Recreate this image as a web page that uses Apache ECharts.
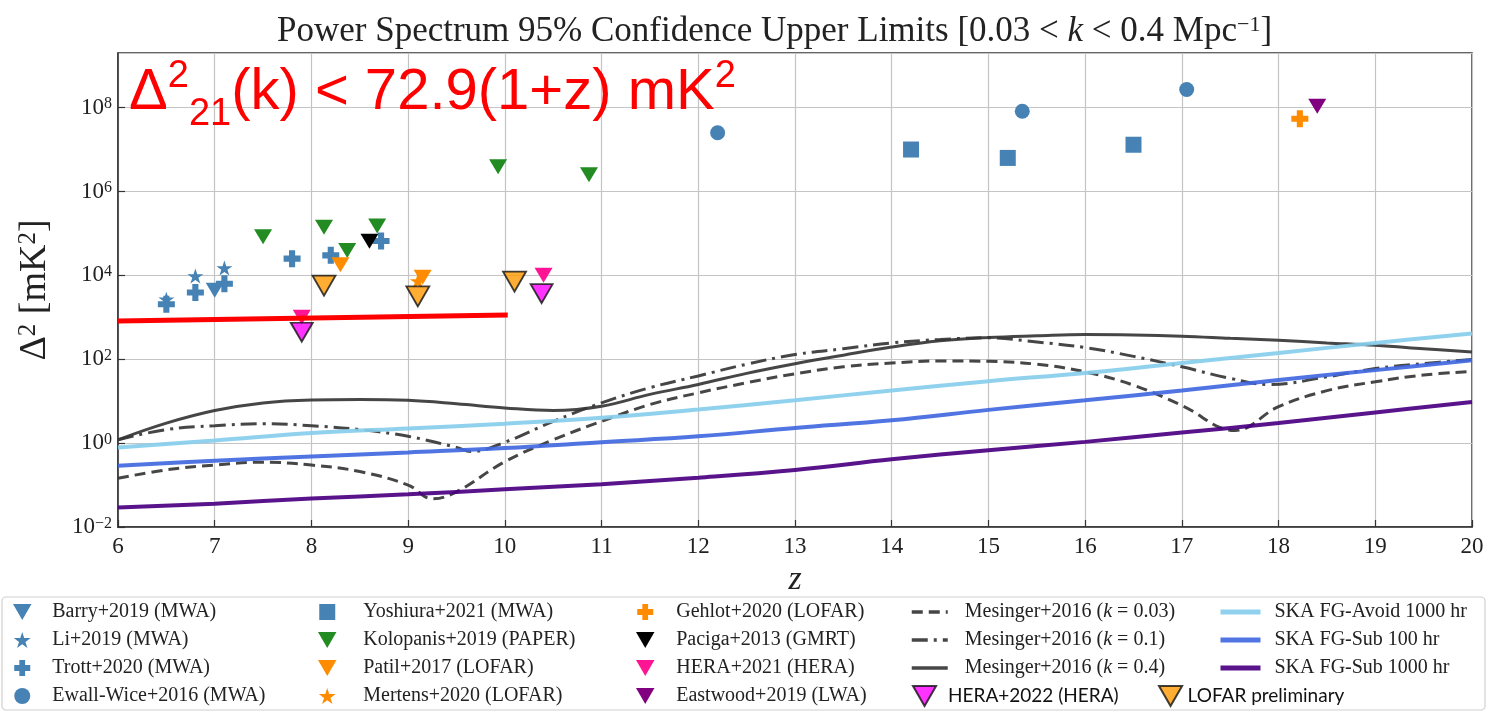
<!DOCTYPE html>
<html><head><meta charset="utf-8">
<script src="https://cdn.jsdelivr.net/npm/echarts@6/dist/echarts.min.js"></script>
<style>html,body{margin:0;padding:0;background:#fff}#c{width:1489px;height:712px}</style>
</head><body><div id="c"></div>
<script>
// ---------- data (z, Delta^2 [mK^2]) ----------
const xTicks = [6, 20, 1];            // min, max, step of the z axis
const yRange = [0.01, 2e9];          // log axis range

const barry      = [[7.0, 4400]];
const li         = [[6.5, 2700], [6.8, 9600], [7.1, 15000]];
const trott      = [[6.5, 2050], [6.8, 3900], [7.1, 6300], [7.8, 25000], [8.2, 30000], [8.72, 66000]];
const ewallWice  = [[12.2, 2.5e7], [15.35, 8.2e7], [17.05, 2.7e8]];
const yoshiura   = [[14.2, 1.0e7], [15.2, 6.3e6], [16.5, 1.3e7]];
const kolopanis  = [[7.5, 8.3e4], [8.13, 1.4e5], [8.37, 3.9e4], [8.68, 1.5e5], [9.93, 3.9e6], [10.87, 2.5e6]];
const patil      = [[8.3, 1.8e4], [9.15, 9000]];
const mertens    = [[9.1, 7300]];
const gehlot     = [[18.22, 5.4e7]];
const paciga     = [[8.6, 6.5e4]];
const hera2021   = [[7.9, 1000], [10.4, 10000]];
const eastwood   = [[18.4, 1.07e8]];
const hera2022   = [[7.9, 440], [10.38, 3650]];
const lofarPrelim= [[8.13, 5700], [9.1, 3150], [10.1, 7100]];

const mes003 = [[6,0.145],[6.5,0.23],[7,0.30],[7.5,0.35],[8,0.30],[8.5,0.21],[9,0.10],[9.25,0.047],[9.5,0.069],[10,0.36],[10.5,1.2],[11,3.3],[11.5,8.3],[12,15.8],[12.5,27.5],[13,45],[13.5,66],[14,81],[14.5,91],[15,89],[15.5,76],[16,50],[16.5,24],[17,7.9],[17.55,2.0],[18,7.4],[18.5,17.8],[19,29],[19.5,42],[20,51]];
const mes01  = [[6,1.2],[6.5,2.1],[7,2.6],[7.5,2.9],[8,2.6],[8.5,2.1],[9,1.45],[9.5,0.79],[9.65,0.63],[10,1.05],[10.5,3.3],[11,9.1],[11.5,21],[12,40],[12.5,76],[13,129],[13.5,178],[14,245],[14.5,295],[15,324],[15.5,257],[16,190],[16.5,117],[17,66],[17.5,35],[17.9,25],[18.5,38],[19,60],[19.5,79],[20,98]];
const mes04  = [[6,1.2],[6.5,3.0],[7,6.0],[7.5,9.1],[8,10.7],[8.5,11.0],[9,10.5],[9.5,8.7],[10,6.9],[10.5,6.0],[11,7.6],[11.5,14.5],[12,25],[12.5,46],[13,78],[13.5,125],[14,195],[14.5,275],[15,330],[15.5,363],[16,390],[16.5,380],[17,355],[17.5,316],[18,282],[18.5,245],[19,214],[19.5,178],[20,148]];
const skaAvoid1000 = [[6,0.79],[7,1.15],[8,1.74],[9,2.24],[10,2.9],[11,4.0],[12,6.3],[13,10.5],[14,18],[15,30],[16,47],[17,81],[18,141],[19,245],[20,410]];
const skaSub100    = [[6,0.29],[7,0.38],[8,0.48],[9,0.60],[10,0.76],[11,1.05],[12,1.45],[13,2.3],[14,3.5],[15,6.2],[16,10.5],[17,18],[18,32],[19,55],[20,95]];
const skaSub1000   = [[6,0.029],[7,0.036],[8,0.048],[9,0.060],[10,0.079],[11,0.105],[12,0.15],[13,0.23],[14,0.41],[15,0.68],[16,1.07],[17,1.78],[18,3.0],[19,5.4],[20,9.5]];
const redLimit = [[6, 820], [10.03, 1130]];

// ---------- styling ----------
const SERIF = 'Liberation Serif';
const TRI  = 'path://M0,0L100,0L50,86.6Z';
const STAR = 'path://M50,0L61.2,34.5L97.6,34.5L68.2,55.9L79.4,90.5L50,69.1L20.6,90.5L31.8,55.9L2.4,34.5L38.8,34.5Z';
const PLUS = 'path://M32,0H68V32H100V68H68V100H32V68H0V32H32Z';
const SQR  = 'path://M0,0H100V100H0Z';

function sc(name, data, symbol, size, color, extra) {
  return Object.assign({type:'scatter', name, data, symbol, symbolSize:size, symbolKeepAspect:false,
    itemStyle:{color, opacity:1}, z:5, silent:true}, extra || {});
}
function ln(name, data, color, width, type, extra) {
  return Object.assign({type:'line', name, data, symbol:'none', showSymbol:false, smooth:0.4,
    lineStyle:{color, width, type, opacity:0.92}, itemStyle:{color}, z:3, silent:true}, extra || {});
}
const MES = '#363636';
const series = [
  ln('Mesinger+2016 (k = 0.03)', mes003, MES, 3, [11,6]),
  ln('Mesinger+2016 (k = 0.1)', mes01, MES, 3, [16,6,3,6]),
  ln('Mesinger+2016 (k = 0.4)', mes04, MES, 3, 'solid'),
  ln('SKA FG-Avoid 1000 hr', skaAvoid1000, '#87ceeb', 4, 'solid'),
  ln('SKA FG-Sub 100 hr', skaSub100, '#4169e1', 4, 'solid'),
  ln('SKA FG-Sub 1000 hr', skaSub1000, '#4b0082', 4, 'solid'),
  sc('Barry+2019 (MWA)', barry, TRI, [18,15], '#4682b4'),
  sc('Li+2019 (MWA)', li, STAR, [16,15], '#4682b4'),
  sc('Trott+2020 (MWA)', trott, PLUS, [17,17], '#4682b4'),
  sc('Ewall-Wice+2016 (MWA)', ewallWice, 'circle', 15, '#4682b4'),
  sc('Yoshiura+2021 (MWA)', yoshiura, SQR, [16,16], '#4682b4'),
  sc('Kolopanis+2019 (PAPER)', kolopanis, TRI, [18,15], '#228b22'),
  sc('Patil+2017 (LOFAR)', patil, TRI, [18,15], '#ff8c00'),
  sc('Mertens+2020 (LOFAR)', mertens, STAR, [16,15], '#ff8c00'),
  sc('Gehlot+2020 (LOFAR)', gehlot, PLUS, [17,17], '#ff8c00'),
  sc('Paciga+2013 (GMRT)', paciga, TRI, [18,15], '#000000'),
  sc('HERA+2021 (HERA)', hera2021, TRI, [18,15], '#ff1493'),
  sc('Eastwood+2019 (LWA)', eastwood, TRI, [18,15], '#800080'),
  sc('HERA+2022 (HERA)', hera2022, TRI, [22,19], '#ff00ff', {itemStyle:{color:'#ff00ff', borderColor:'#111', borderWidth:1.8}, z:7}),
  sc('LOFAR preliminary', lofarPrelim, TRI, [23,20], '#ff9900', {itemStyle:{color:'#ff9900', borderColor:'#111', borderWidth:1.8}, z:7}),
  {type:'line', name:'limit', data:redLimit, symbol:'none', lineStyle:{color:'#ff0000', width:5}, z:9, silent:true}
];

const legText = {fontFamily:SERIF, fontSize:20, color:'#222', lineHeight:20,
  rich:{n:{fontFamily:SERIF, fontSize:20, color:'#222'}, i:{fontFamily:SERIF, fontSize:20, fontStyle:'italic', color:'#222'}}};
function legFmt(name) {
  const m = name.match(/^(Mesinger\+2016 \()k( = [\d.]+\))$/);
  if (m) return '{n|' + m[1] + '}{i|k}{n|' + m[2] + '}';
  return name;
}
function leg(data, left, top, itemWidth, pad, extra) {
  return Object.assign({orient:'vertical', left, top, padding:0, data, selectedMode:false, itemWidth, itemHeight:16, itemGap:8,
    formatter:legFmt, textStyle:Object.assign({}, legText, {padding:[0,0,0,pad]})}, extra || {});
}
const sansText = {fontFamily:'Lato', fontSize:19, color:'#111', lineHeight:20};

const chart = echarts.init(document.getElementById('c'), null, {renderer:'canvas'});
chart.setOption({
  animation:false,
  backgroundColor:'#ffffff',
  title:{
    text:'Power Spectrum 95% Confidence Upper Limits [0.03 < {i|k} < 0.4 Mpc{s|−1}]',
    left:272, top:9,
    textStyle:{fontFamily:SERIF, fontSize:35, fontWeight:'normal', color:'#222',
      rich:{i:{fontFamily:SERIF, fontSize:35, fontStyle:'italic', color:'#222'},
            s:{fontFamily:SERIF, fontSize:22, color:'#222', verticalAlign:'top'}}}
  },
  grid:{left:118, right:17, top:53, bottom:185, show:true, borderColor:'#333', borderWidth:1.5, outerBoundsMode:'none'},
  xAxis:{type:'value', min:xTicks[0], max:xTicks[1], interval:xTicks[2],
    name:'z', nameLocation:'middle', nameGap:34,
    nameTextStyle:{fontFamily:SERIF, fontStyle:'italic', fontSize:34, color:'#222'},
    axisLine:{lineStyle:{color:'#333', width:1.5}},
    axisTick:{inside:true, length:7, lineStyle:{color:'#333', width:1.2}},
    axisLabel:{fontFamily:SERIF, fontSize:23, color:'#222', margin:8},
    splitLine:{lineStyle:{color:'#c4c4c4', width:1.2}}},
  yAxis:{type:'log', logBase:10, min:yRange[0], max:yRange[1], interval:2,
    name:'{d|Δ}{s|2} [mK{s|2}]', nameLocation:'middle', nameGap:64, nameRotate:90,
    nameTextStyle:{fontFamily:SERIF, fontSize:38, color:'#222',
      rich:{d:{fontFamily:SERIF, fontSize:38, color:'#222'}, s:{fontFamily:SERIF, fontSize:25, color:'#222', verticalAlign:'top'}}},
    axisLine:{lineStyle:{color:'#333', width:1.5}},
    axisTick:{inside:true, length:7, lineStyle:{color:'#333', width:1.2}},
    axisLabel:{margin:6, showMaxLabel:false,
      formatter:function(v){ const e = Math.log10(v); const r = Math.round(e);
        if (Math.abs(e - r) > 0.01 || r % 2 !== 0) return '';
        return '{b|10}{s|' + (r < 0 ? '−' + (-r) : r) + '}'; },
      rich:{b:{fontFamily:SERIF, fontSize:23, color:'#222'}, s:{fontFamily:SERIF, fontSize:16, color:'#222', verticalAlign:'top'}}},
    splitLine:{lineStyle:{color:'#c4c4c4', width:1.2}}},
  legend:[
    leg(['Barry+2019 (MWA)','Li+2019 (MWA)','Trott+2020 (MWA)','Ewall-Wice+2016 (MWA)'], 13, 602, 50, 0),
    leg(['Yoshiura+2021 (MWA)','Kolopanis+2019 (PAPER)','Patil+2017 (LOFAR)','Mertens+2020 (LOFAR)'], 318, 602, 62, 0),
    leg(['Gehlot+2020 (LOFAR)','Paciga+2013 (GMRT)','HERA+2021 (HERA)','Eastwood+2019 (LWA)'], 636, 602, 52, 0),
    leg(['Mesinger+2016 (k = 0.03)','Mesinger+2016 (k = 0.1)','Mesinger+2016 (k = 0.4)'], 910, 602, 36, 12,
        {itemStyle:{opacity:0}, lineStyle:{width:3.5}}),
    leg(['SKA FG-Avoid 1000 hr','SKA FG-Sub 100 hr','SKA FG-Sub 1000 hr'], 1218, 602, 40, 9,
        {itemStyle:{opacity:0}, lineStyle:{width:5}}),
    leg(['HERA+2022 (HERA)'], 912, 685, 37, 0, {textStyle:sansText, itemHeight:20}),
    leg(['LOFAR preliminary'], 1158, 685, 24, 0, {textStyle:sansText, itemHeight:20})
  ],
  graphic:[
    {type:'rect', shape:{x:2, y:597, width:1483, height:113, r:4}, style:{fill:'#ffffff', stroke:'#d0d0d0', lineWidth:1.2}, z:0, silent:true},
    {type:'text', x:129, y:52, z:100, silent:true,
      style:{text:'{d|Δ}{p|2}{b|21}{d|(k) < 72.9(1+z) mK}{p|2}',
        rich:{d:{fontFamily:'Liberation Sans', fontSize:58, fill:'#ff0000', lineHeight:82, verticalAlign:'middle'},
              p:{fontFamily:'Liberation Sans', fontSize:38, fill:'#ff0000', verticalAlign:'top', padding:[6,0,0,0]},
              b:{fontFamily:'Liberation Sans', fontSize:38, fill:'#ff0000', verticalAlign:'bottom'}}}}
  ],
  series
});
</script></body></html>
